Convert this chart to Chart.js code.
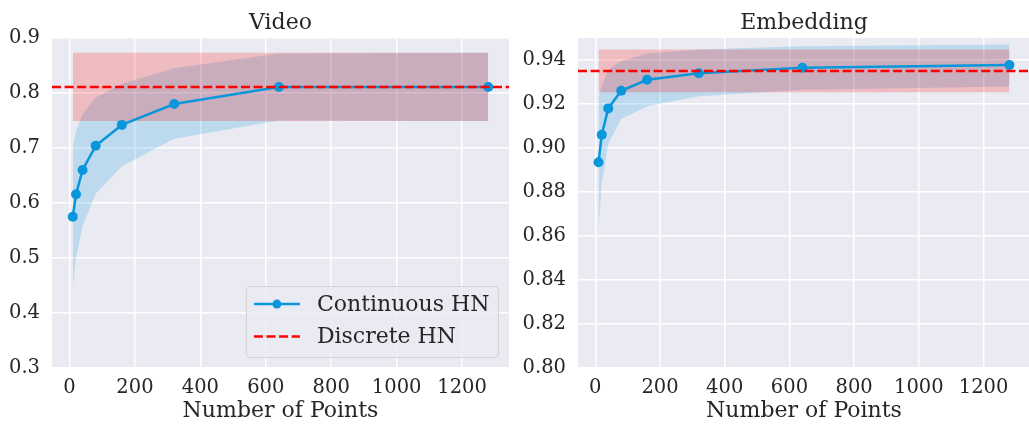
<!DOCTYPE html>
<html><head><meta charset="utf-8">
<script src="https://cdn.jsdelivr.net/npm/chart.js@4.4.0/dist/chart.umd.min.js"></script>
<style>
html,body{margin:0;padding:0;background:#fff;overflow:hidden;width:1029px;height:428px}
#wrap{position:relative;width:1029px;height:428px;overflow:hidden}
#c1{position:absolute;left:0;top:0}
#c2{position:absolute;left:514px;top:0}
</style></head><body>
<div id="wrap"><canvas id="c1" width="514" height="428"></canvas><canvas id="c2" width="521" height="428"></canvas></div>
<script>
// ---- data ----
const numPoints = [10, 20, 40, 80, 160, 320, 640, 1280];
const xTicks = [0, 200, 400, 600, 800, 1000, 1200];
const xLimits = [-53.5, 1343.5];

const videoMean  = [0.575, 0.616, 0.660, 0.704, 0.742, 0.780, 0.811, 0.811];
const videoUpper = [0.702, 0.731, 0.762, 0.792, 0.817, 0.845, 0.872, 0.873];
const videoLower = [0.446, 0.501, 0.558, 0.617, 0.667, 0.717, 0.750, 0.749];
const videoDiscrete = [0.811, 0.749, 0.873]; // mean, lower, upper
const videoYTicks = [0.3, 0.4, 0.5, 0.6, 0.7, 0.8, 0.9];
const videoYLimits = [0.3, 0.9];

const embMean  = [0.8935, 0.906, 0.918, 0.926, 0.931, 0.934, 0.9365, 0.9377];
const embUpper = [0.9235, 0.928, 0.9356, 0.9394, 0.9429, 0.9448, 0.9462, 0.947];
const embLower = [0.8635, 0.884, 0.902, 0.9132, 0.919, 0.9235, 0.9265, 0.928];
const embDiscrete = [0.935, 0.9253, 0.9448];
const embYTicks = [0.80, 0.82, 0.84, 0.86, 0.88, 0.90, 0.92, 0.94];
const embYLimits = [0.80, 0.95];

const seriesLabels = ['Continuous HN', 'Discrete HN'];
const titles = ['Video', 'Embedding'];
const xLabel = 'Number of Points';

// ---- style ----
const FONT = "'DejaVu Serif', serif";
const TEXT = '#262626';
const BLUE = 'rgb(10,150,218)';
const BLUE_BAND = 'rgba(10,150,218,0.2)';
const RED = '#ff0000';
const RED_BAND = 'rgba(255,0,0,0.2)';
const BG = '#EAEAF2';
const DASH = [9, 3.6];

const bgPlugin = {
  id: 'bg',
  beforeDraw(chart) {
    const {ctx, chartArea: a} = chart;
    ctx.save(); ctx.fillStyle = BG;
    ctx.fillRect(a.left, a.top, a.right - a.left, a.bottom - a.top);
    ctx.restore();
  }
};

const legendPlugin = {
  id: 'boxLegend',
  afterDraw(chart, args, opts) {
    if (!opts.show) return;
    const {ctx, chartArea: a} = chart;
    ctx.save();
    ctx.font = '22px ' + FONT;
    const tw = Math.max(...seriesLabels.map(s => ctx.measureText(s).width));
    const w = 7.5 + 46 + 17 + tw + 9, h = 71;
    const x0 = a.right - 10.5 - w, y0 = a.bottom - 10.5 - h;
    const r = 4;
    ctx.beginPath();
    ctx.moveTo(x0 + r, y0); ctx.lineTo(x0 + w - r, y0); ctx.arcTo(x0 + w, y0, x0 + w, y0 + r, r);
    ctx.lineTo(x0 + w, y0 + h - r); ctx.arcTo(x0 + w, y0 + h, x0 + w - r, y0 + h, r);
    ctx.lineTo(x0 + r, y0 + h); ctx.arcTo(x0, y0 + h, x0, y0 + h - r, r);
    ctx.lineTo(x0, y0 + r); ctx.arcTo(x0, y0, x0 + r, y0, r); ctx.closePath();
    ctx.fillStyle = 'rgba(234,234,242,0.8)'; ctx.fill();
    ctx.strokeStyle = 'rgba(204,204,204,0.8)'; ctx.lineWidth = 1; ctx.stroke();
    const rows = [y0 + 17.6, y0 + 50];
    const lx = x0 + 7.5;
    ctx.strokeStyle = BLUE; ctx.lineWidth = 2.5; ctx.setLineDash([]);
    ctx.beginPath(); ctx.moveTo(lx, rows[0]); ctx.lineTo(lx + 46, rows[0]); ctx.stroke();
    ctx.fillStyle = BLUE; ctx.beginPath(); ctx.arc(lx + 23, rows[0], 4.5, 0, Math.PI * 2); ctx.fill();
    ctx.strokeStyle = RED; ctx.setLineDash(DASH);
    ctx.beginPath(); ctx.moveTo(lx, rows[1]); ctx.lineTo(lx + 46, rows[1]); ctx.stroke();
    ctx.setLineDash([]);
    ctx.fillStyle = TEXT; ctx.textBaseline = 'middle'; ctx.textAlign = 'left';
    seriesLabels.forEach((s, i) => ctx.fillText(s, lx + 46 + 17, rows[i] + 1));
    ctx.restore();
  }
};

function makeChart(id, title, mean, upper, lower, disc, yTicks, yLimits, decimals, yWidth, padRight, legend) {
  const pts = arr => numPoints.map((x, i) => ({x, y: arr[i]}));
  const first = numPoints[0], last = numPoints[numPoints.length - 1];
  return new Chart(document.getElementById(id), {
    type: 'line',
    data: {
      datasets: [
        {label: 'cont-upper', data: pts(upper), fill: '+1', backgroundColor: BLUE_BAND, borderWidth: 0, pointRadius: 0, order: 5},
        {label: 'cont-lower', data: pts(lower), fill: false, borderWidth: 0, pointRadius: 0, order: 5},
        {label: 'disc-upper', data: [{x: first, y: disc[2]}, {x: last, y: disc[2]}], fill: '+1', backgroundColor: RED_BAND, borderWidth: 0, pointRadius: 0, order: 4},
        {label: 'disc-lower', data: [{x: first, y: disc[1]}, {x: last, y: disc[1]}], fill: false, borderWidth: 0, pointRadius: 0, order: 4},
        {label: seriesLabels[0], data: pts(mean), borderColor: BLUE, backgroundColor: BLUE, borderWidth: 2.5, pointRadius: 5, pointBorderWidth: 0, pointBackgroundColor: BLUE, tension: 0, fill: false, order: 2},
        {label: seriesLabels[1], data: [{x: xLimits[0], y: disc[0]}, {x: xLimits[1], y: disc[0]}], borderColor: RED, borderWidth: 2.5, borderDash: DASH, pointRadius: 0, fill: false, order: 1}
      ]
    },
    options: {
      responsive: false, animation: false, devicePixelRatio: 1,
      layout: {padding: {left: 0, right: padRight, top: 0, bottom: 0}},
      plugins: {
        legend: {display: false}, tooltip: {enabled: false},
        title: {display: true, text: title, fullSize: false, color: TEXT, font: {family: FONT, size: 22, weight: 'normal', lineHeight: 1.2}, padding: {top: 10, bottom: 1.6}},
        boxLegend: {show: legend}
      },
      scales: {
        x: {
          type: 'linear', min: xLimits[0], max: xLimits[1],
          afterBuildTicks: s => { s.ticks = xTicks.map(v => ({value: v})); },
          afterFit: s => { s.height = 60; },
          grid: {color: '#ffffff', lineWidth: 1.5, drawTicks: false},
          border: {display: false},
          ticks: {color: TEXT, font: {family: FONT, size: 19.5}, padding: 8.5, maxRotation: 0, callback: v => String(v)},
          title: {display: true, text: xLabel, color: TEXT, font: {family: FONT, size: 22}, padding: {top: 0, bottom: 3.5}}
        },
        y: {
          min: yLimits[0], max: yLimits[1],
          afterBuildTicks: s => { s.ticks = yTicks.map(v => ({value: v})); },
          afterFit: s => { s.width = yWidth; },
          grid: {color: '#ffffff', lineWidth: 1.5, drawTicks: false},
          border: {display: false},
          ticks: {color: TEXT, font: {family: FONT, size: 19.5}, padding: 12, callback: v => Number(v).toFixed(decimals)}
        }
      }
    },
    plugins: [bgPlugin, legendPlugin]
  });
}

makeChart('c1', titles[0], videoMean, videoUpper, videoLower, videoDiscrete, videoYTicks, videoYLimits, 1, 52, 5, true);
makeChart('c2', titles[1], embMean, embUpper, embLower, embDiscrete, embYTicks, embYLimits, 2, 64, 0, false);
</script>
</body></html>
